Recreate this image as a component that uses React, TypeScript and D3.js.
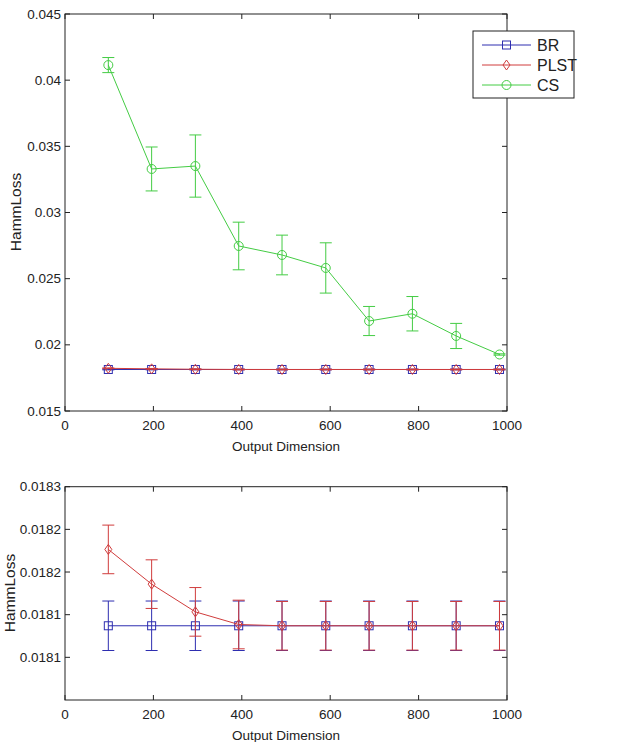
import React, { useEffect, useRef } from 'react';
import * as d3 from 'd3';

// output dimensions (x) shared by both panels
const dims = [98, 196, 295, 393, 491, 590, 688, 786, 885, 983];

// top panel, all three methods
const brMean = [0.018137, 0.018137, 0.018137, 0.018137, 0.018137, 0.018137, 0.018137, 0.018137, 0.018137, 0.018137];
const brErr = [0.000029, 0.000029, 0.000029, 0.000029, 0.000029, 0.000029, 0.000029, 0.000029, 0.000029, 0.000029];
const plstMean = [0.0182265, 0.0181858, 0.0181533, 0.0181385, 0.018137, 0.018137, 0.018137, 0.018137, 0.018137, 0.018137];
const plstErr = [0.0000285, 0.0000285, 0.0000285, 0.0000285, 0.0000285, 0.0000285, 0.0000285, 0.0000285, 0.0000285, 0.0000285];
const csMean = [0.04114, 0.03329, 0.03351, 0.02747, 0.02679, 0.02581, 0.0218, 0.02235, 0.02067, 0.01927];
const csErr = [0.00057, 0.00166, 0.00235, 0.0018, 0.0015, 0.0019, 0.0011, 0.0013, 0.00095, 0.00005];

const xTicks = [0, 200, 400, 600, 800, 1000];
const topYTicks = [0.015, 0.02, 0.025, 0.03, 0.035, 0.04, 0.045];
const topYLabels = ['0.015', '0.02', '0.025', '0.03', '0.035', '0.04', '0.045'];
const botYTicks = [0.0181, 0.01815, 0.0182, 0.01825, 0.0183];
const botYLabels = ['0.0181', '0.0181', '0.0182', '0.0182', '0.0183'];

const legendNames = ['BR', 'PLST', 'CS'];

const BLUE = '#2e2eb0';
const RED = '#d03c3c';
const GREEN = '#44cc44';
const FONT = 'Liberation Sans, Arial, sans-serif';

const App = () => {
  const ref = useRef(null);

  useEffect(() => {
    const svg = d3.select(ref.current);
    svg.selectAll('*').remove();

    const x = d3.scaleLinear().domain([0, 1000]).range([65, 507]);

    const drawMarker = (g, shape, cx, cy, color) => {
      if (shape === 'square') {
        g.append('rect').attr('x', cx - 4).attr('y', cy - 4).attr('width', 8).attr('height', 8)
          .attr('fill', 'none').attr('stroke', color).attr('stroke-width', 1);
      } else if (shape === 'diamond') {
        g.append('path').attr('d', `M${cx},${cy - 5}L${cx + 3.5},${cy}L${cx},${cy + 5}L${cx - 3.5},${cy}Z`)
          .attr('fill', 'none').attr('stroke', color).attr('stroke-width', 1);
      } else {
        g.append('circle').attr('cx', cx).attr('cy', cy).attr('r', 4.5)
          .attr('fill', 'none').attr('stroke', color).attr('stroke-width', 1);
      }
    };

    const drawSeries = (g, y, mean, err, color, shape) => {
      const line = d3.line().x((d, i) => x(dims[i])).y(d => y(d));
      g.append('path').datum(mean).attr('d', line)
        .attr('fill', 'none').attr('stroke', color).attr('stroke-width', 1);
      mean.forEach((m, i) => {
        const cx = x(dims[i]);
        const y0 = y(m - err[i]);
        const y1 = y(m + err[i]);
        g.append('line').attr('x1', cx).attr('x2', cx).attr('y1', y0).attr('y2', y1)
          .attr('stroke', color).attr('stroke-width', 1);
        [y0, y1].forEach(yy => {
          g.append('line').attr('x1', cx - 6).attr('x2', cx + 6).attr('y1', yy).attr('y2', yy)
            .attr('stroke', color).attr('stroke-width', 1);
        });
        drawMarker(g, shape, cx, y(m), color);
      });
    };

    const drawAxes = (g, y, yTicks, yLabels, top, bottom) => {
      g.append('rect').attr('x', 65).attr('y', top).attr('width', 442).attr('height', bottom - top)
        .attr('fill', 'none').attr('stroke', '#222').attr('stroke-width', 1);
      xTicks.forEach(t => {
        const xx = x(t);
        g.append('line').attr('x1', xx).attr('x2', xx).attr('y1', bottom).attr('y2', bottom - 5).attr('stroke', '#222');
        g.append('line').attr('x1', xx).attr('x2', xx).attr('y1', top).attr('y2', top + 5).attr('stroke', '#222');
        g.append('text').attr('x', xx).attr('y', bottom + 19).attr('text-anchor', 'middle')
          .attr('font-family', FONT).attr('font-size', 13.5).attr('fill', '#222').text(t);
      });
      yTicks.forEach((t, i) => {
        const yy = y(t);
        g.append('line').attr('x1', 65).attr('x2', 70).attr('y1', yy).attr('y2', yy).attr('stroke', '#222');
        g.append('line').attr('x1', 507).attr('x2', 502).attr('y1', yy).attr('y2', yy).attr('stroke', '#222');
        g.append('text').attr('x', 61).attr('y', yy + 4.5).attr('text-anchor', 'end')
          .attr('font-family', FONT).attr('font-size', 13.5).attr('fill', '#222').text(yLabels[i]);
      });
      g.append('text').attr('x', x(500)).attr('y', bottom + 40).attr('text-anchor', 'middle')
        .attr('font-family', FONT).attr('font-size', 13.5).attr('fill', '#222').text('Output Dimension');
    };

    // top panel
    const yTop = d3.scaleLinear().domain([0.015, 0.045]).range([411, 14]);
    const gTop = svg.append('g');
    drawSeries(gTop, yTop, brMean, brErr, BLUE, 'square');
    drawSeries(gTop, yTop, plstMean, plstErr, RED, 'diamond');
    drawSeries(gTop, yTop, csMean, csErr, GREEN, 'circle');
    drawAxes(gTop, yTop, topYTicks, topYLabels, 14, 411);
    gTop.append('text').attr('transform', 'translate(21,212) rotate(-90)').attr('text-anchor', 'middle')
      .attr('font-family', FONT).attr('font-size', 15.5).attr('fill', '#222').text('HammLoss');

    // legend
    const lg = gTop.append('g');
    lg.append('rect').attr('x', 473).attr('y', 31).attr('width', 101).attr('height', 67)
      .attr('fill', '#fff').attr('stroke', '#222');
    const legendColors = [BLUE, RED, GREEN];
    const legendShapes = ['square', 'diamond', 'circle'];
    legendNames.forEach((name, i) => {
      const ly = 45 + i * 20;
      lg.append('line').attr('x1', 482).attr('x2', 531).attr('y1', ly).attr('y2', ly)
        .attr('stroke', legendColors[i]);
      drawMarker(lg, legendShapes[i], 506.5, ly, legendColors[i]);
      lg.append('text').attr('x', 537).attr('y', ly + 6).attr('font-family', FONT)
        .attr('font-size', 16).attr('fill', '#222').text(name);
    });

    // bottom panel, BR vs PLST close-up
    const yBot = d3.scaleLinear().domain([0.01805, 0.0183]).range([700, 486.7]);
    const gBot = svg.append('g');
    drawSeries(gBot, yBot, brMean, brErr, BLUE, 'square');
    drawSeries(gBot, yBot, plstMean, plstErr, RED, 'diamond');
    drawAxes(gBot, yBot, botYTicks, botYLabels, 486.7, 700);
    gBot.append('text').attr('transform', 'translate(15,593) rotate(-90)').attr('text-anchor', 'middle')
      .attr('font-family', FONT).attr('font-size', 15.5).attr('fill', '#222').text('HammLoss');
  }, []);

  return (
    <svg ref={ref} width={619} height={742}
      style={{ position: 'absolute', left: 0, top: 0, background: '#fff', display: 'block' }} />
  );
};

export default App;
